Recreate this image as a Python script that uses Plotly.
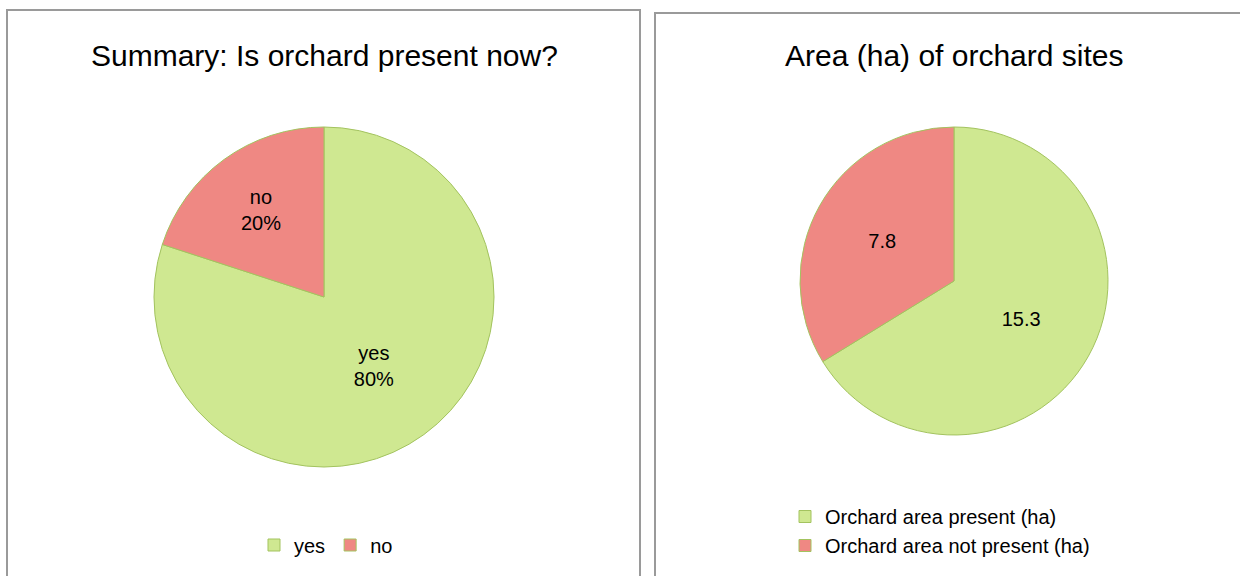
import plotly.graph_objects as go

W, H = 1240, 576

# data
present_labels = ["yes", "no"]
present_values = [80, 20]
area_labels = ["Orchard area present (ha)", "Orchard area not present (ha)"]
area_values = [15.3, 7.8]

green = "#cfe891"
red = "#ef8883"
edge = "#a3c35f"
FONT = "Liberation Sans"

def px(x):
    return x / W

def py(y):
    return 1 - y / H

fig = go.Figure()

fig.add_trace(go.Pie(
    labels=present_labels, values=present_values,
    sort=False, direction="clockwise", rotation=0,
    marker=dict(colors=[green, red], line=dict(color=edge, width=1)),
    texttemplate="%{label}<br>%{percent:.0%}",
    textposition="inside", insidetextorientation="horizontal",
    textfont=dict(family=FONT, size=20, color="#000000"),
    domain=dict(x=[px(154), px(494)], y=[py(467), py(127)]),
    legend="legend", hoverinfo="label+value+percent",
))

fig.add_trace(go.Pie(
    labels=area_labels, values=area_values,
    sort=False, direction="clockwise", rotation=0,
    marker=dict(colors=[green, red], line=dict(color=edge, width=1)),
    texttemplate="%{value}",
    textposition="inside", insidetextorientation="horizontal",
    textfont=dict(family=FONT, size=20, color="#000000"),
    domain=dict(x=[px(799), px(1109)], y=[py(435), py(127)]),
    legend="legend2", hoverinfo="label+value+percent",
))

shapes = [
    dict(type="rect", xref="paper", yref="paper",
         x0=px(7), x1=px(640), y0=py(600), y1=py(10),
         line=dict(color="#9a9a9a", width=2), fillcolor="rgba(0,0,0,0)"),
    dict(type="rect", xref="paper", yref="paper",
         x0=px(655), x1=px(1260), y0=py(600), y1=py(13),
         line=dict(color="#9a9a9a", width=2), fillcolor="rgba(0,0,0,0)"),
]

annotations = [
    dict(text="Summary: Is orchard present now?", x=px(324), y=py(55),
         xref="paper", yref="paper", showarrow=False, xanchor="center", yanchor="middle",
         font=dict(family=FONT, size=30, color="#000000")),
    dict(text="Area (ha) of orchard sites", x=px(954), y=py(56),
         xref="paper", yref="paper", showarrow=False, xanchor="center", yanchor="middle",
         font=dict(family=FONT, size=30, color="#000000")),
]

fig.update_layout(
    width=W, height=H,
    margin=dict(l=0, r=0, t=0, b=0),
    paper_bgcolor="white", plot_bgcolor="white",
    shapes=shapes, annotations=annotations,
    legend=dict(orientation="h", x=px(326), xanchor="center", y=py(545), yanchor="middle",
                font=dict(family=FONT, size=20, color="#000000"), bgcolor="rgba(0,0,0,0)"),
    legend2=dict(orientation="v", x=px(785), xanchor="left", y=py(531), yanchor="middle",
                 font=dict(family=FONT, size=20, color="#000000"), bgcolor="rgba(0,0,0,0)"),
)

fig.write_html("out.html", config={"displayModeBar": False},
               post_script="document.body.style.margin='0px';document.body.style.overflow='hidden';")
